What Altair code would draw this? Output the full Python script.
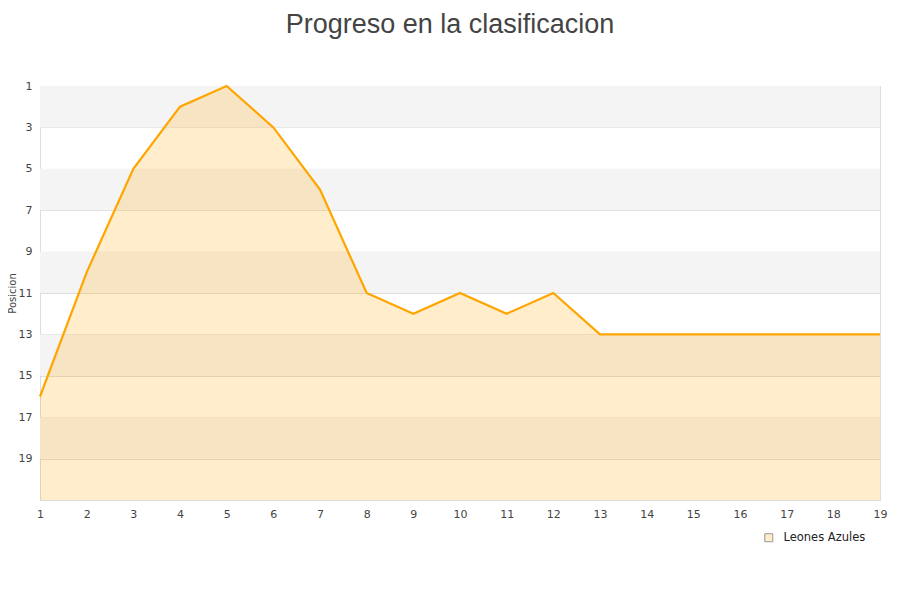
import altair as alt
import pandas as pd

jornadas = list(range(1, 20))
posiciones = [16, 10, 5, 2, 1, 3, 6, 11, 12, 11, 12, 11, 13, 13, 13, 13, 13, 13, 13]
equipo = "Leones Azules"
band_start = [1, 5, 9, 13, 17]
band_end = [3, 7, 11, 15, 19]
y_ticks = [1, 3, 5, 7, 9, 11, 13, 15, 17, 19]

df = pd.DataFrame({"Jornada": jornadas, "Posicion": posiciones, "Equipo": [equipo] * len(jornadas)})
bands = pd.DataFrame({"y0": band_start, "y1": band_end})

W, H = 840, 414
yscale = alt.Scale(domain=[1, 21], reverse=True, nice=False, zero=False)
xscale = alt.Scale(domain=[1, 19], nice=False, zero=False)

band_layer = alt.Chart(bands).mark_rect(color="#f4f4f4").encode(
    x=alt.value(0), x2=alt.value(W),
    y=alt.Y("y0:Q", scale=yscale,
            axis=alt.Axis(values=y_ticks, title="Posicion", grid=True, gridColor="#dddddd",
                          domainColor="#dddddd", ticks=False, labelPadding=8,
                          labelColor="#444444", labelFont="DejaVu Sans", labelFontSize=11,
                          titleFont="DejaVu Sans", titleFontSize=10, titleFontWeight="normal",
                          titleColor="#444444", titleX=-28, titleY=H / 2,
                          titleAngle=270, titleAlign="center", titleBaseline="middle")),
    y2="y1:Q",
)

area = alt.Chart(df).mark_area(color="#FFA500", opacity=0.2).encode(
    x=alt.X("Jornada:Q", scale=xscale,
            axis=alt.Axis(values=jornadas, title=None, grid=False, ticks=False,
                          domainColor="#dddddd", labelPadding=8, labelColor="#444444",
                          labelFont="DejaVu Sans", labelFontSize=11, format="d")),
    y=alt.Y("Posicion:Q", scale=yscale),
    y2=alt.datum(21),
)

legend_layer = alt.Chart(df).mark_square(size=0, stroke="#999999", strokeWidth=1, opacity=1).encode(
    x=alt.X("Jornada:Q", scale=xscale),
    y=alt.Y("Posicion:Q", scale=yscale),
    fill=alt.Fill("Equipo:N", scale=alt.Scale(domain=[equipo], range=["#ffedcc"]),
                  legend=alt.Legend(title=None, orient="none", legendX=723, legendY=446,
                                    symbolType="square", symbolSize=64, labelOffset=9,
                                    symbolStrokeColor="#999999", symbolStrokeWidth=1,
                                    labelFont="DejaVu Sans", labelFontSize=11.5,
                                    labelColor="#222222")),
)

line = alt.Chart(df).mark_line(color="#FFA500", strokeWidth=2.2).encode(
    x=alt.X("Jornada:Q", scale=xscale),
    y=alt.Y("Posicion:Q", scale=yscale),
)

chart = alt.layer(band_layer, area, line, legend_layer).properties(
    width=W, height=H,
    title=alt.TitleParams("Progreso en la clasificacion", font="Liberation Sans", fontSize=27,
                          fontWeight="normal", color="#444444", anchor="middle", dx=-10, offset=41),
    autosize=alt.AutoSizeParams(type="none"),
    padding={"left": 32, "top": 78, "right": 12, "bottom": 80},
).configure_view(stroke="#dddddd").configure_axis(labelFlush=False)

chart.save("out.html", embed_options={"renderer": "svg", "actions": False})
